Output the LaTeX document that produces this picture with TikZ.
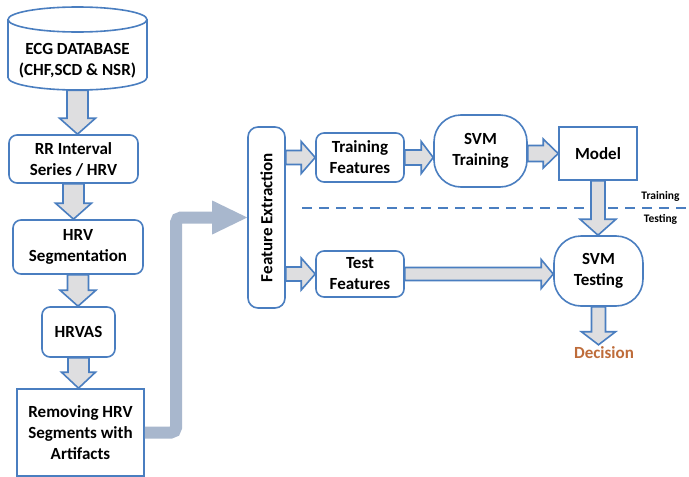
\documentclass[tikz,border=0pt]{standalone}
\usepackage{fontspec}
\setmainfont{Carlito}
\usepackage{graphicx}
\usetikzlibrary{calc}
\definecolor{bord}{RGB}{74,126,192}
\definecolor{afill}{RGB}{222,222,224}
\definecolor{bigarrow}{RGB}{168,183,205}
\definecolor{decis}{RGB}{190,108,58}
\tikzset{
  box/.style={draw=bord, line width=1.6pt, fill=white, align=center, inner sep=0pt,
    font=\bfseries\fontsize{17}{21}\selectfont},
  rbox/.style={box, rounded corners=8pt},
  txt/.style={align=center, inner sep=0pt, font=\bfseries\fontsize{17}{21}\selectfont},
  blk/.style={draw=bord, line width=1.6pt, fill=afill, line join=miter},
  dashln/.style={color=bord, line width=2pt, dash pattern=on 10pt off 7pt},
  small/.style={inner sep=0pt, font=\bfseries\fontsize{11.5}{13}\selectfont}
}
\newcommand\blkdown[5]{%
  \draw[blk] let \p1=#1, \p2=#2 in
    (\x1-#3pt,\y1) -- (\x1-#3pt,\y2+#5pt) -- (\x1-#4pt,\y2+#5pt) -- (\x1,\y2)
    -- (\x1+#4pt,\y2+#5pt) -- (\x1+#3pt,\y2+#5pt) -- (\x1+#3pt,\y1) -- cycle;}
\newcommand\blkright[5]{%
  \draw[blk] let \p1=#1, \p2=#2 in
    (\x1,\y1+#3pt) -- (\x2-#5pt,\y1+#3pt) -- (\x2-#5pt,\y1+#4pt) -- (\x2,\y1)
    -- (\x2-#5pt,\y1-#4pt) -- (\x2-#5pt,\y1-#3pt) -- (\x1,\y1-#3pt) -- cycle;}
\begin{document}
\begin{tikzpicture}[x=1pt,y=-1pt]
\useasboundingbox[fill=white] (0,0) rectangle (689,477);

% database cylinder
\filldraw[draw=bord, line width=1.6pt, fill=white]
  (8,19.5) -- (8,77.5) arc[start angle=180, end angle=360, x radius=69.5, y radius=-12.5]
  -- (147,19.5) arc[start angle=0, end angle=180, x radius=69.5, y radius=-12.5] -- cycle;
\draw[bord, line width=1.6pt] (8,19.5) arc[start angle=180, end angle=360, x radius=69.5, y radius=-12.5];
\node[minimum width=139pt, minimum height=83pt, inner sep=0pt] (db) at (77.5,48.5) {};
\node[txt] (dbt) at (77.5,60.5) {ECG DATABASE\\(CHF,SCD \& NSR)};

% left column
\node[rbox, minimum width=129pt, minimum height=48pt] (rr) at (73.5,159) {RR Interval\\Series / HRV};
\node[rbox, minimum width=130pt, minimum height=54pt] (seg) at (78,247) {HRV\\Segmentation};
\node[rbox, minimum width=73pt, minimum height=50pt] (hrvas) at (78.5,332) {HRVAS};
\node[box, minimum width=127pt, minimum height=87pt] (rem) at (80.5,432.5) {Removing HRV\\Segments with\\Artifacts};

% right part
\node[box, rounded corners=10pt, minimum width=37pt, minimum height=181pt] (fe) at (266.5,217.5)
  {\rotatebox{90}{Feature Extraction}};
\node[rbox, minimum width=88pt, minimum height=49pt] (tf) at (360,157.5) {Training\\Features};
\node[rbox, minimum width=88pt, minimum height=46pt] (tst) at (360,274) {Test\\Features};
\node[box, rounded corners=27pt, minimum width=93pt, minimum height=72pt] (svmtr) at (480.5,151) {SVM\\Training};
\node[box, minimum width=78pt, minimum height=53pt] (model) at (598,153.5) {Model};
\node[box, rounded corners=27pt, minimum width=89pt, minimum height=70pt] (svmts) at (598.5,271) {SVM\\Testing};
\node[txt, text=decis, inner sep=2pt] (dec) at (604,353) {Decision};

% training / testing separator
\coordinate (dsA) at (302,207.5);
\coordinate (dsB) at (689,207.5);
\draw[dashln] (dsA) -- (dsB);
\node[small] (ltrain) at (660.5,196) {Training};
\node[small] (ltest) at (660.5,219) {Testing};

% block arrows, left column
\blkdown{(db.south)}{(rr.north)}{10.5}{18}{16}
\blkdown{(rr.south)}{(seg.north)}{10.5}{18}{16}
\blkdown{(seg.south)}{(hrvas.north)}{10.5}{18}{16}
\blkdown{(hrvas.south)}{(rem.north)}{10.5}{17}{16}

% big L arrow
\coordinate (bl1) at (176,0);
\draw[bigarrow, line width=12pt, rounded corners=5pt]
  (rem.east) -- (rem.east -| bl1) -- (bl1 |- fe.west) -- ($(fe.west)+(-34,0)$);
\fill[bigarrow] ($(fe.west)+(-35,-17)$) -- (fe.west) -- ($(fe.west)+(-35,17)$) -- cycle;

% block arrows, right part
\blkright{(fe.east |- tf.west)}{(tf.west)}{7}{16}{14}
\blkright{(tf.east)}{(tf.east -| svmtr.west)}{7.5}{16}{12}
\blkright{(svmtr.east |- model.west)}{(model.west)}{8}{14.5}{15}
\blkright{(fe.east |- tst.west)}{(tst.west)}{7}{16}{14}
\blkright{(tst.east)}{(tst.east -| svmts.west)}{6.5}{14.5}{12}
\blkdown{(model.south)}{(svmts.north)}{7}{18}{16}
\blkdown{(svmts.south)}{(svmts.south |- dec.north)}{7}{17}{13}
\end{tikzpicture}
\end{document}
